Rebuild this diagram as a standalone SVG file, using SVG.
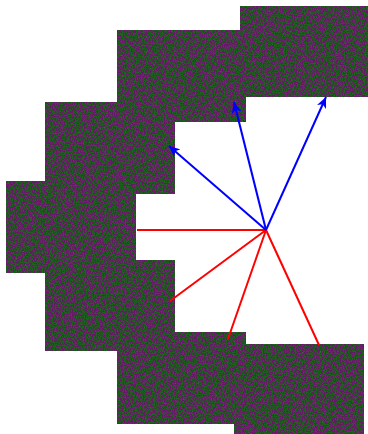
<svg xmlns="http://www.w3.org/2000/svg" width="368" height="434" viewBox="0 0 368 434">
  <defs>
    <filter id="noise" x="0" y="0" width="1" height="1" color-interpolation-filters="sRGB">
      <feTurbulence type="fractalNoise" baseFrequency="0.9" numOctaves="1" seed="3" result="t"/>
      <feColorMatrix in="t" type="matrix" values="4 -4 0 0 0.5  -4 4 0 0 0.5  4 -4 0 0 0.5  0 0 0 0 1" result="m"/>
      <feComponentTransfer in="m" result="d">
        <feFuncR type="discrete" tableValues="0.12 0.25 0.4"/>
        <feFuncG type="discrete" tableValues="0.1 0.25 0.38"/>
        <feFuncB type="discrete" tableValues="0.12 0.25 0.4"/>
      </feComponentTransfer>
      <feComposite in="d" in2="SourceAlpha" operator="in"/>
    </filter>
    <marker id="ah" markerUnits="userSpaceOnUse" markerWidth="12" markerHeight="10" refX="11" refY="5" orient="auto">
      <path d="M0,0 L11,5 L0,10 L3,5 Z" fill="#0000ff"/>
    </marker>
    <style>
      .blk { fill: #3c3c3c; filter: url(#noise); }
      .red { stroke: #ff0000; stroke-width: 2; fill: none; }
      .blue { stroke: #0000ff; stroke-width: 2; fill: none; marker-end: url(#ah); }
    </style>
  </defs>
  <g id="block-a"><rect class="blk" x="240" y="6" width="128" height="91"/></g>
  <g id="block-b"><rect class="blk" x="117" y="30" width="129" height="92"/></g>
  <g id="block-c"><rect class="blk" x="45" y="102" width="130" height="92"/></g>
  <g id="block-d"><rect class="blk" x="6" y="181" width="130" height="92"/></g>
  <g id="block-e"><rect class="blk" x="45" y="260" width="130" height="91"/></g>
  <g id="block-f"><rect class="blk" x="117" y="332" width="129" height="92"/></g>
  <g id="block-g"><rect class="blk" x="234" y="344" width="130" height="90"/></g>
  <g id="connectors">
    <line class="red" x1="266" y1="230" x2="137" y2="230"/>
    <line class="red" x1="266" y1="230" x2="170" y2="301"/>
    <line class="red" x1="266" y1="230" x2="228" y2="339"/>
    <line class="red" x1="266" y1="230" x2="319" y2="345"/>
    <line class="blue" x1="266" y1="230" x2="169" y2="146"/>
    <line class="blue" x1="266" y1="230" x2="234" y2="102"/>
    <line class="blue" x1="266" y1="230" x2="326" y2="97"/>
  </g>
</svg>
